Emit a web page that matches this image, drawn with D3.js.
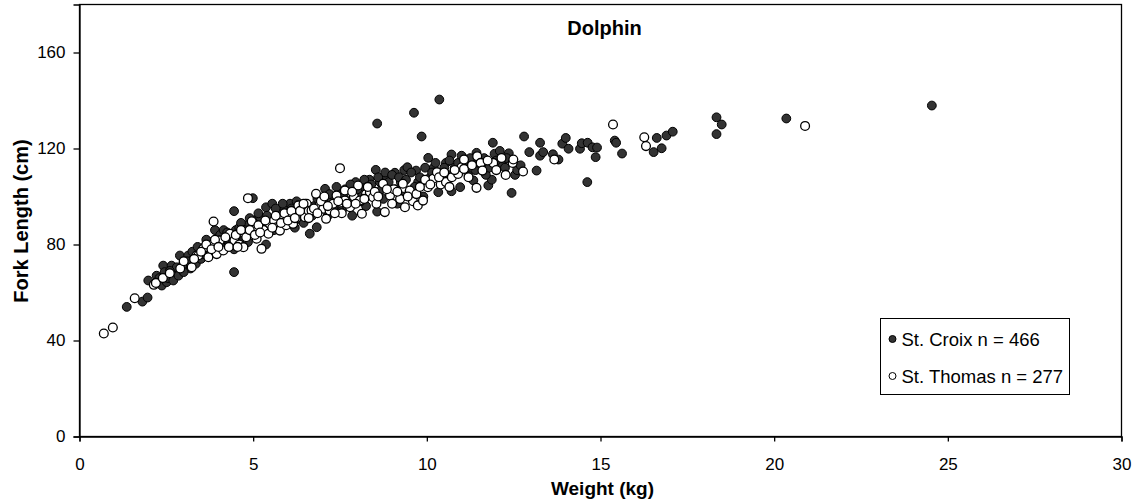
<!DOCTYPE html>
<html><head><meta charset="utf-8">
<script src="https://cdn.jsdelivr.net/npm/d3@7"></script>
<style>
body{margin:0;background:#fff;}
text{font-family:"Liberation Sans",Arial,sans-serif;fill:#000;}
</style></head>
<body><svg id="c" width="1134" height="501"></svg>
<script>
const title = "Dolphin";
const xLabel = "Weight (kg)";
const yLabel = "Fork Length (cm)";
const xTicks = [0,5,10,15,20,25,30];
const yTicks = [0,40,80,120,160];
const seriesNames = ["St. Croix n = 466","St. Thomas n = 277"];

// St. Croix: [weight kg, fork length cm]
const stCroix = [
[1.36,54],[1.81,56.2],[1.96,57.9],[1.98,65],[2.22,67],[2.37,62.9],[2.41,71.2],[2.51,64.3],[2.65,67],[2.65,71.2],
[2.89,75.4],[2.99,72],[3.13,75.4],[3.28,74],[2.3,66],[2.45,68.5],[2.55,66],[2.75,69],[2.8,70.5],[2.95,70],
[3.05,71],[3.2,70],[3.35,72],[3.45,77],[3.5,74],[3.6,79],[3.7,78],[3.75,81],[3.85,77],[3.9,86],
[3.95,81],[4.05,84],[4.1,79],[4.2,82],[4.3,80],[4.35,83],[4.45,68.5],[4.45,93.9],[4.45,78],[4.5,86],
[4.6,87],[4.7,83],[4.8,88],[4.85,81],[4.95,86],[4.99,99.3],[5.05,90],[5.1,84],[5.2,91.4],[5.3,88],
[5.37,80],[5.37,95.5],[5.45,91],[5.55,97],[5.6,86],[5.7,93],[5.8,89],[5.9,95],[6.0,91],[6.06,97],
[6.15,93],[6.2,87],[6.3,94],[6.4,90],[6.5,97],[6.63,84.5],[6.7,92],[6.83,87.2],[6.9,98],[7.0,95],
[7.07,103.2],[7.15,92],[7.25,99],[7.35,96],[7.45,101],[7.55,94],[7.65,103],[7.75,98],[7.85,92],[7.95,106],
[8.05,100],[8.15,104],[8.25,96],[8.35,107],[8.45,102],[8.53,111.1],[8.57,93.7],[8.57,130.4],[8.65,106],[8.75,99],
[8.85,108],[8.95,103],[9.08,109.9],[9.15,97],[9.25,106],[9.35,111],[9.44,112.2],[9.5,102],[9.63,134.9],[9.69,110.8],
[9.75,106],[9.85,125],[9.9,100],[10.04,116.1],[10.1,108],[10.2,112],[10.33,101.8],[10.36,140.4],[10.45,110],[10.55,114],
[10.71,117.5],[10.71,102.2],[10.8,112],[10.96,103.9],[11.08,115.7],[11.2,109],[11.29,114],[11.34,106.7],[11.43,118.2],[11.6,113],
[11.77,104.6],[11.87,107],[11.9,122.4],[11.95,117.8],[12.18,113.2],[12.36,118],[12.44,101.5],[12.54,109],[12.8,125],[12.95,118.5],
[13.16,110.8],[13.26,122.4],[13.26,117],[13.35,118.5],[13.63,117.6],[13.79,115.4],[13.9,122],[14.0,124.4],[14.08,119.9],[14.41,119.9],
[14.46,122.2],[14.62,106],[14.63,122.4],[14.77,120.5],[14.86,116.4],[14.9,120.4],[15.41,123.3],[15.45,122.4],[15.62,117.9],[16.53,118.5],
[16.62,124.4],[16.76,120.1],[16.9,125.4],[17.08,127],[18.34,133],[18.49,130],[18.34,126],[20.35,132.5],[24.54,137.9],
[2.6,69],[2.7,65],[2.85,67],[3.0,68.5],[3.1,73],[3.25,77],[3.4,79],[3.55,76],[3.65,82],[3.8,79],
[4.0,78],[4.15,86],[4.25,85],[4.4,81],[4.55,84],[4.65,89],[4.75,86],[4.9,91],[5.0,89],[5.15,93],
[5.25,86],[5.4,92],[5.5,89],[5.65,95],[5.75,91],[5.85,97],[6.1,95],[6.25,98],[6.35,92],[6.45,89],
[6.55,95],[6.75,96],[6.85,99],[7.05,97],[7.2,101],[7.3,95],[7.4,104],[7.6,100],[7.7,96],[7.8,105],
[8.0,103],[8.1,98],[8.2,107],[8.3,101],[8.4,105],[8.6,108],[8.7,103],[8.8,110],[8.9,106],[9.0,109],
[9.1,103],[9.2,108],[9.3,100],[9.4,107],[9.55,110],[9.65,104],[9.8,108],[9.95,112],[10.05,106],[10.15,110],
[10.25,114],[10.35,108],[10.5,112],[10.6,109],[10.65,115],[10.85,110],[10.9,114],[11.0,117],[11.15,112],[11.25,116],
[11.4,111],[11.5,114],[11.65,116],[11.7,109],[11.8,112],[12.0,115],[12.1,119],[12.25,112],[12.3,116],[12.6,111],[12.7,113]
];

// St. Thomas: [weight kg, fork length cm]
const stThomas = [
[0.7,42.9],[0.96,45.4],[1.59,57.6],[2.14,63.2],[2.2,64],[3.23,70.5],[3.37,75.4],[3.42,75.4],[3.56,78.2],[3.71,74.7],
[3.85,80.3],[3.86,89.6],[3.95,76],[4.04,81.7],[4.14,77.5],[4.33,84.5],[4.46,81.7],[4.6,80],[4.72,84.9],[4.72,78.9],
[4.85,99.3],[4.96,89.7],[5.1,82.4],[5.0,86],[5.24,78.2],[5.3,86],[5.44,84.5],[5.48,88.6],[5.6,90],[5.68,87.2],
[5.77,85.8],[5.87,90.7],[5.95,88],[6.06,92.8],[6.15,88.6],[6.25,91],[6.3,96.3],[6.4,93],[6.49,91.4],[6.54,97],
[6.6,94],[6.68,94.2],[6.81,101.1],[6.9,96],[7.02,94.9],[7.1,90.7],[7.2,94.2],[7.3,97],[7.4,100.4],[7.5,111.8],
[7.55,93],[7.64,98.3],[7.64,102.5],[7.79,95.5],[7.9,100],[8.02,104.6],[8.07,98.3],[8.13,92.8],[8.25,101],[8.36,101.8],
[8.45,99.7],[8.55,97],[8.74,105.3],[8.79,93.5],[8.94,100.4],[9.05,103],[9.23,99],[9.31,105.3],[9.37,95.5],[9.51,102.5],
[9.6,98],[9.74,96.3],[9.89,98.3],[10.03,103.9],[10.18,107.4],[10.29,110.1],[10.4,105],[10.55,106],[10.72,108],[10.9,109.4],
[11.0,112.2],[11.07,111.5],[11.07,115.4],[11.2,108],[11.43,103.6],[11.45,116.8],[11.55,114],[11.6,110.8],[11.91,114],[12.27,109],
[12.47,114],[12.49,115.4],[12.77,110.4],[13.67,115.4],[15.36,130],[16.26,124.7],[16.31,121],[20.89,129.4],
[2.4,66],[2.6,68],[2.9,70],[3.0,73],[3.3,74],[3.5,77],[3.65,80],[3.8,78],[3.9,82],[4.0,79],
[4.2,83],[4.3,79],[4.5,84],[4.55,79],[4.65,86],[4.8,83],[4.9,86],[5.05,84],[5.15,88],[5.2,85],
[5.35,90],[5.55,87],[5.65,92],[5.8,89],[5.9,93],[6.0,90],[6.1,94],[6.2,91],[6.35,94],[6.45,97],
[6.6,91],[6.75,95],[6.85,93],[6.95,98],[7.05,100],[7.15,96],[7.35,93],[7.45,98],[7.7,97],[7.85,102],
[7.95,97],[8.2,99],[8.3,104],[8.5,102],[8.6,100],[8.85,103],[9.0,97],[9.15,102],[9.45,100],[9.7,101],
[9.8,104],[9.95,107],[10.1,105],[10.35,108],[10.5,110],[10.65,104],[10.8,111],[11.3,113],[11.75,115],[12.0,111],[12.15,116]
];

const svg = d3.select("#c");
const L = 79.5, R = 1121.5, T = 4.5, B = 436.5;
const x = d3.scaleLinear().domain([0,30]).range([L,R]);
const y = d3.scaleLinear().domain([0,180]).range([B,T]);
const FONT = "'Liberation Sans',Arial,sans-serif";

// frame
svg.append("rect").attr("x",L).attr("y",T).attr("width",R-L).attr("height",B-T)
  .attr("fill","none").attr("stroke","#000").attr("stroke-width",1.3);

const xAxis = svg.append("g").attr("transform",`translate(0,${B})`)
  .call(d3.axisBottom(x).tickValues(xTicks).tickSize(5).tickPadding(16).tickFormat(d3.format("d")));
const yAxis = svg.append("g").attr("transform",`translate(${L},0)`)
  .call(d3.axisLeft(y).tickValues(yTicks).tickSize(6).tickPadding(8).tickFormat(d3.format("d")));
[xAxis,yAxis].forEach(a=>{
  a.select(".domain").attr("stroke","#000").attr("stroke-width",1.3);
  a.selectAll(".tick line").attr("stroke","#000").attr("stroke-width",1.3);
  a.selectAll(".tick text").style("font-family",FONT).style("font-size","17px").attr("fill","#000");
});

// points
const plot = svg.append("g");
plot.selectAll("circle.croix").data(stCroix).join("circle").attr("class","croix")
  .attr("cx",d=>x(d[0])).attr("cy",d=>y(d[1])).attr("r",4.4)
  .attr("fill","#333").attr("stroke","#000").attr("stroke-width",1);
plot.selectAll("circle.thomas").data(stThomas).join("circle").attr("class","thomas")
  .attr("cx",d=>x(d[0])).attr("cy",d=>y(d[1])).attr("r",4.4)
  .attr("fill","#fff").attr("stroke","#000").attr("stroke-width",1.3);

// titles
svg.append("text").attr("x",(L+R)/2+4).attr("y",35).attr("text-anchor","middle")
  .style("font-size","20px").style("font-weight","bold").text(title);
svg.append("text").attr("x",(L+R)/2+2).attr("y",495).attr("text-anchor","middle")
  .style("font-size","19px").style("font-weight","bold").text(xLabel);
svg.append("text").attr("transform","translate(28,221) rotate(-90)").attr("text-anchor","middle")
  .style("font-size","20px").style("font-weight","bold").text(yLabel);

// legend
const lg = svg.append("g");
lg.append("rect").attr("x",880.5).attr("y",318.5).attr("width",189).attr("height",76)
  .attr("fill","#fff").attr("stroke","#000").attr("stroke-width",1);
const fills = ["#333","#fff"];
seriesNames.forEach((n,i)=>{
  const cy = 339 + i*37;
  lg.append("circle").attr("cx",892.5).attr("cy",cy).attr("r",3.5)
    .attr("fill",fills[i]).attr("stroke","#000").attr("stroke-width",1);
  lg.append("text").attr("x",901.5).attr("y",cy+6.5).style("font-size","18.5px").text(n);
});
</script></body></html>
